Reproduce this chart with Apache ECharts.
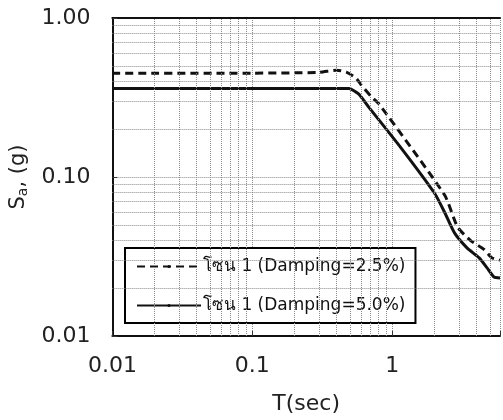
<!DOCTYPE html>
<html>
<head>
<meta charset="utf-8">
<script src="https://cdn.jsdelivr.net/npm/echarts@6/dist/echarts.min.js"></script>
<style>
html, body { margin: 0; padding: 0; background: #fff; }
#chart { width: 503px; height: 420px; }
</style>
</head>
<body>
<div id="chart"></div>
<script>
// damping 2.5 %
var periods25 = [0.01, 0.1, 0.3, 0.4, 0.47, 0.55, 0.6, 0.71, 0.8, 2.37, 2.93, 3.62, 4.54, 5.17, 5.9];
var sa25 = [0.45, 0.45, 0.455, 0.47, 0.457, 0.42, 0.38, 0.32, 0.29, 0.077, 0.0485, 0.040, 0.035, 0.031, 0.030];
// damping 5.0 %
var periods50 = [0.01, 0.1, 0.49, 0.575, 0.68, 1.16, 2.01, 2.37, 2.79, 3.44, 4.19, 4.77, 5.35, 5.9];
var sa50 = [0.36, 0.36, 0.36, 0.333, 0.275, 0.152, 0.079, 0.060, 0.0445, 0.0357, 0.031, 0.0268, 0.0235, 0.0232];

var seriesNames = ['โซน 1 (Damping=2.5%)', 'โซน 1 (Damping=5.0%)'];

var xTickValues = [0.01, 0.1, 1];
var xTickLabels = ['0.01', '0.1', '1'];
var yTickValues = [0.01, 0.1, 1];
var yTickLabels = ['0.01', '0.10', '1.00'];

// minor (log) grid lines
var xMinor = [0.02, 0.03, 0.04, 0.05, 0.06, 0.07, 0.08, 0.09,
              0.2, 0.3, 0.4, 0.5, 0.6, 0.7, 0.8, 0.9, 2, 3, 4, 5];
var yMinor = [0.02, 0.03, 0.04, 0.05, 0.06, 0.07, 0.08, 0.09,
              0.2, 0.3, 0.4, 0.5, 0.6, 0.7, 0.8, 0.9];

function pairs(xs, ys) {
	var out = [];
	for (var i = 0; i < xs.length; i++) out.push([xs[i], ys[i]]);
	return out;
}

function tickFormatter(values, labels) {
	return function (v) {
		for (var i = 0; i < values.length; i++) {
			if (Math.abs(Math.log10(v) - Math.log10(values[i])) < 1e-6) return labels[i];
		}
		return '';
	};
}

var FONT = "'DejaVu Sans', 'Liberation Sans', sans-serif";
var gridLine = { color: '#8a8a8a', width: 1, type: 'dotted' };

var minorLines = [];
xMinor.forEach(function (v) { minorLines.push({ xAxis: v }); });
yMinor.forEach(function (v) { minorLines.push({ yAxis: v }); });

var chart = echarts.init(document.getElementById('chart'));

var option = {
	backgroundColor: '#fff',
	animation: false,
	textStyle: { fontFamily: FONT },
	grid: { left: 111, right: 0, top: 18, bottom: 84, containLabel: false },
	legend: {
		data: seriesNames,
		orient: 'vertical',
		left: 125,
		top: 248,
		padding: [10, 10, 9, 11],
		itemGap: 22,
		itemWidth: 64,
		itemHeight: 4,
		backgroundColor: '#fff',
		borderColor: '#000',
		borderWidth: 2,
		textStyle: { fontFamily: FONT, fontSize: 17, color: '#111', padding: [0, 0, 0, -3] }
	},
	xAxis: [{
		type: 'log',
		logBase: 10,
		min: 0.01,
		max: 5.9,
		name: 'T(sec)',
		nameLocation: 'middle',
		nameGap: 57,
		nameTextStyle: { fontFamily: FONT, fontSize: 22, color: '#222' },
		axisLine: { show: true, onZero: false, lineStyle: { color: '#111', width: 2 } },
		axisTick: { show: true, inside: true, length: 5, lineStyle: { color: '#333' } },
		axisLabel: {
			fontFamily: FONT, fontSize: 22, color: '#222', margin: 19,
			formatter: tickFormatter(xTickValues, xTickLabels)
		},
		splitLine: { show: true, lineStyle: gridLine }
	}, {
		type: 'log',
		logBase: 10,
		min: 0.01,
		max: 5.9,
		position: 'top',
		axisLine: { show: true, onZero: false, lineStyle: { color: '#111', width: 2 } },
		axisTick: { show: false },
		axisLabel: { show: false },
		splitLine: { show: false }
	}],
	yAxis: {
		type: 'log',
		logBase: 10,
		min: 0.01,
		max: 1,
		name: '{s|S}{sub|a}{s|, (g)}',
		nameLocation: 'middle',
		nameGap: 80,
		nameTextStyle: {
			fontFamily: FONT, fontSize: 21, color: '#222',
			rich: {
				s: { fontFamily: FONT, fontSize: 21, color: '#222' },
				sub: { fontFamily: FONT, fontSize: 14, color: '#222', padding: [10, 0, 0, 0] }
			}
		},
		axisLine: { show: true, onZero: false, lineStyle: { color: '#111', width: 2 } },
		axisTick: { show: true, inside: true, length: 5, lineStyle: { color: '#333' } },
		axisLabel: {
			fontFamily: FONT, fontSize: 22, color: '#222', margin: 22,
			formatter: tickFormatter(yTickValues, yTickLabels)
		},
		splitLine: { show: true, lineStyle: gridLine }
	},
	series: [{
		name: 'grid',
		type: 'line',
		data: [],
		z: 1,
		silent: true,
		markLine: {
			silent: true,
			symbol: ['none', 'none'],
			label: { show: false },
			lineStyle: gridLine,
			data: minorLines
		}
	}, {
		name: seriesNames[0],
		type: 'line',
		data: pairs(periods25, sa25),
		z: 3,
		symbol: 'none',
		smooth: 0.2,
		lineStyle: { color: '#111', width: 3, type: [8, 5] },
		itemStyle: { color: '#111' }
	}, {
		name: seriesNames[1],
		type: 'line',
		data: pairs(periods50, sa50),
		z: 3,
		symbol: 'none',
		smooth: 0.2,
		lineStyle: { color: '#111', width: 3 },
		itemStyle: { color: '#111' }
	}]
};

chart.setOption(option);
</script>
</body>
</html>
